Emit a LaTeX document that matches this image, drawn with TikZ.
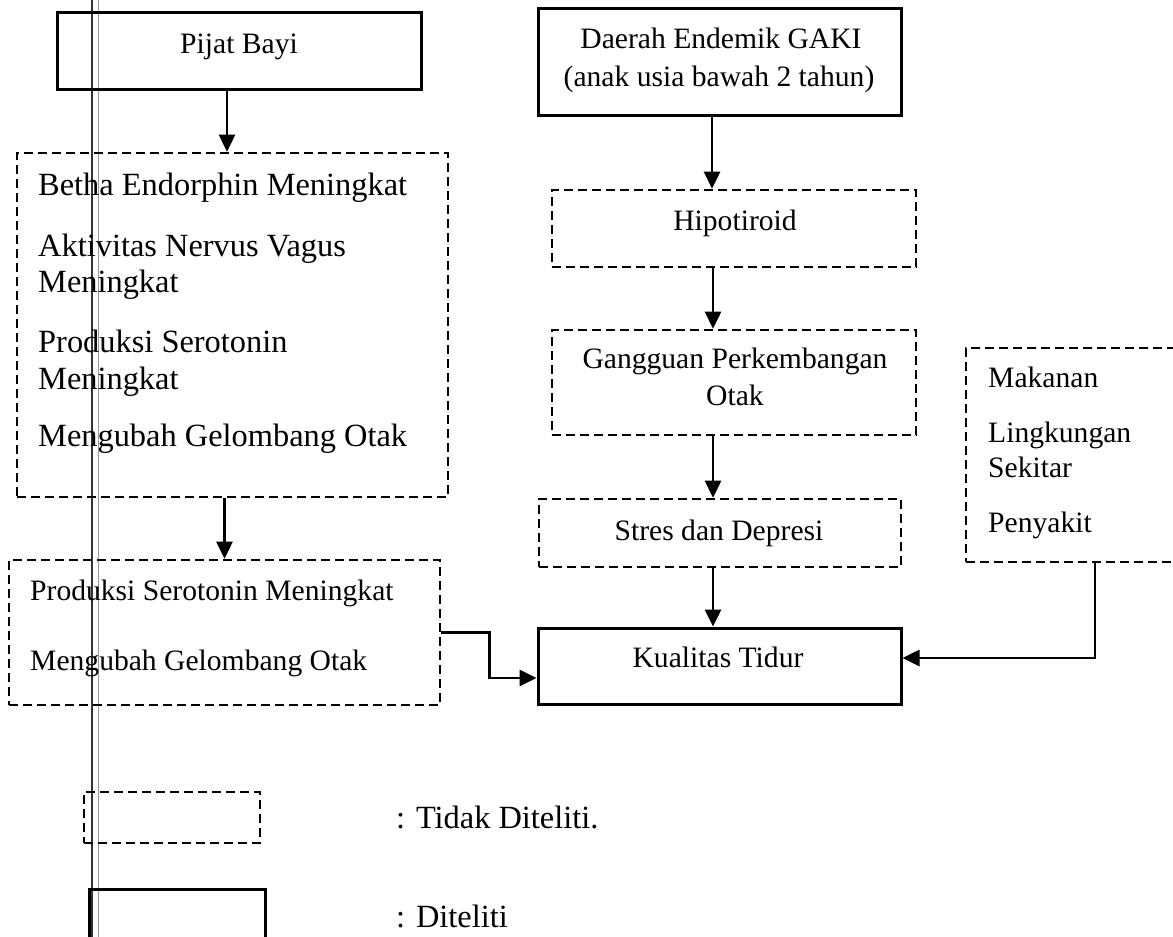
\documentclass[tikz,border=0pt]{standalone}
\usepackage{fontspec}
\setmainfont{Liberation Serif}
\usetikzlibrary{arrows.meta}
\tikzset{
  x=1pt,y=-1pt,
  solidbox/.style={draw=black,line width=3pt,minimum width=#1,inner sep=0pt,fill=none},
  dashbox/.style={draw=black,line width=2.6pt,dash pattern=on 9pt off 5pt,inner sep=0pt},
  txt/.style={inner sep=0pt,font=\fontsize{29.6}{35}\selectfont},
  bigtxt/.style={inner sep=0pt,font=\fontsize{32.4}{38}\selectfont},
  arr/.style={line width=2.7pt,-{Triangle[length=17pt,width=16pt]}},
}
\begin{document}
\begin{tikzpicture}
\useasboundingbox (0,0) rectangle (1173,937);
\fill[white] (0,0) rectangle (1173,937);
% scan artifact lines
\draw[line width=1.5pt,black!80] (92,0) -- (92,937);
\draw[line width=1pt,black!40] (98,0) -- (98,937);

% boxes
\node[solidbox=364pt,minimum height=77pt] (pijat) at (239,50.5) {};
\node[dashbox,minimum width=431pt,minimum height=344pt] (b1) at (232.5,325) {};
\node[solidbox=363pt,minimum height=107pt] (daerah) at (719.5,61.5) {};
\node[dashbox,minimum width=364pt,minimum height=77pt] (hipo) at (734,228.5) {};
\node[dashbox,minimum width=364pt,minimum height=105pt] (gang) at (734,382.5) {};
\node[dashbox,minimum width=362pt,minimum height=68pt] (stres) at (720,533) {};
\node[solidbox=363pt,minimum height=76pt] (kual) at (719.5,666) {};
\node[dashbox,minimum width=431pt,minimum height=145pt] (b2) at (224.5,632.5) {};
\node[dashbox,minimum width=229pt,minimum height=214pt] (right) at (1080.5,455) {};
\node[dashbox,minimum width=176pt,minimum height=51pt] (leg1) at (172,817.5) {};
\node[solidbox=176pt,minimum height=71pt] (leg2) at (177,924.5) {};

% texts
\node[txt,anchor=base] (tpijat) at (239,53) {Pijat Bayi};
\node[bigtxt,anchor=base west] (t1a) at (38,195) {Betha Endorphin Meningkat};
\node[bigtxt,anchor=base west] (t1b) at (38,256) {Aktivitas Nervus Vagus};
\node[bigtxt,anchor=base west] (t1c) at (38,292) {Meningkat};
\node[bigtxt,anchor=base west] (t1d) at (38,352) {Produksi Serotonin};
\node[bigtxt,anchor=base west] (t1e) at (38,389) {Meningkat};
\node[bigtxt,anchor=base west] (t1f) at (38,446) {Mengubah Gelombang Otak};
\node[txt,anchor=base] (td1) at (721,48) {Daerah Endemik GAKI};
\node[txt,anchor=base] (td2) at (719,86) {(anak usia bawah 2 tahun)};
\node[txt,anchor=base] (thipo) at (735,230) {Hipotiroid};
\node[txt,anchor=base] (tg1) at (735,368) {Gangguan Perkembangan};
\node[txt,anchor=base] (tg2) at (735,405) {Otak};
\node[txt,anchor=base] (tstres) at (719,540) {Stres dan Depresi};
\node[txt,anchor=base] (tkual) at (718,667) {Kualitas Tidur};
\node[txt,anchor=base west] (t2a) at (30,600) {Produksi Serotonin Meningkat};
\node[txt,anchor=base west] (t2b) at (30,670) {Mengubah Gelombang Otak};
\node[txt,anchor=base west] (tr1) at (988,387) {Makanan};
\node[txt,anchor=base west] (tr2) at (988,442) {Lingkungan};
\node[txt,anchor=base west] (tr3) at (988,477) {Sekitar};
\node[txt,anchor=base west] (tr4) at (988,532) {Penyakit};
\node[bigtxt,anchor=base west] (tl1) at (396,828) {: Tidak Diteliti.};
\node[bigtxt,anchor=base west] (tl2) at (396,927) {: Diteliti};

% connectors
\draw[arr] ([xshift=-12pt]pijat.south) -- ([xshift=-12pt]pijat.south |- b1.north);
\draw[arr] (b2.north |- b1.south) -- (b2.north);
\draw[arr] ([xshift=-7.5pt]daerah.south) -- ([xshift=-7.5pt]daerah.south |- hipo.north);
\draw[arr] ([xshift=-21pt]hipo.south) -- ([xshift=-21pt]hipo.south |- gang.north);
\draw[arr] ([xshift=-21pt]gang.south) -- ([xshift=-21pt]gang.south |- stres.north);
\draw[arr] ([xshift=-7pt]stres.south) -- ([xshift=-7pt]stres.south |- kual.north);
\draw[arr] (b2.east) -- ++(48,0) |- ([yshift=-12pt]kual.west);
\draw[arr] ([xshift=14.5pt]right.south) |- ([yshift=8pt]kual.east);
\end{tikzpicture}
\end{document}
